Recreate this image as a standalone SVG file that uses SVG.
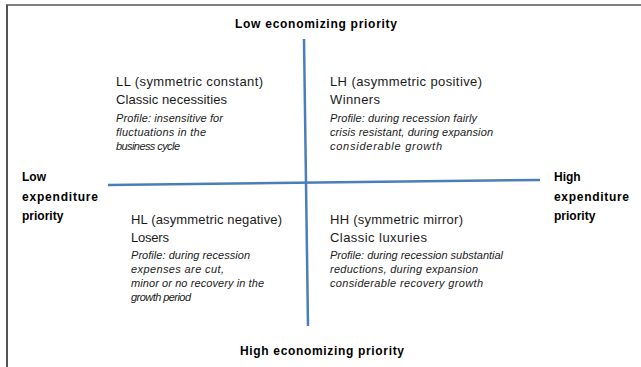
<svg xmlns="http://www.w3.org/2000/svg" width="641" height="367" viewBox="0 0 641 367">
<style>
  .t { font-family: "Liberation Sans", Arial, sans-serif; font-size: 13px; fill: #1a1a1a; }
  .i { font-family: "Liberation Sans", Arial, sans-serif; font-size: 11px; font-style: italic; fill: #1a1a1a; }
  .b { font-family: "Liberation Sans", Arial, sans-serif; font-size: 12px; font-weight: bold; fill: #000; }
  .axis { stroke: #4a7ebb; stroke-width: 2.5; fill: none; }
</style>
<rect x="0" y="0" width="641" height="367" fill="#ffffff"/>
<g id="frame">
  <line x1="6" y1="5" x2="641" y2="5" stroke="#000" stroke-width="1.2"/>
  <line x1="7" y1="5" x2="7" y2="367" stroke="#555" stroke-width="2"/>
</g>
<g id="connectors">
  <line class="axis" x1="304" y1="39" x2="308" y2="326"/>
  <line class="axis" x1="108" y1="185" x2="540" y2="180"/>
</g>
<g id="label-top">
  <text class="b" x="235" y="28" textLength="162">Low economizing priority</text>
</g>
<g id="label-bottom">
  <text class="b" x="240" y="355" textLength="164">High economizing priority</text>
</g>
<g id="label-left">
  <text class="b" x="22" y="181">Low</text>
  <text class="b" x="22" y="201" textLength="76">expenditure</text>
  <text class="b" x="22" y="220">priority</text>
</g>
<g id="label-right">
  <text class="b" x="554" y="181">High</text>
  <text class="b" x="554" y="201" textLength="75">expenditure</text>
  <text class="b" x="554" y="220">priority</text>
</g>
<g id="node-LL">
  <text class="t" x="116" y="86" textLength="147">LL (symmetric constant)</text>
  <text class="t" x="116" y="104" textLength="111">Classic necessities</text>
  <text class="i" x="116" y="122" textLength="107">Profile: insensitive for</text>
  <text class="i" x="116" y="136" textLength="90">fluctuations in the</text>
  <text class="i" x="116" y="150" textLength="64">business cycle</text>
</g>
<g id="node-LH">
  <text class="t" x="330" y="86" textLength="152">LH (asymmetric positive)</text>
  <text class="t" x="330" y="104" textLength="50">Winners</text>
  <text class="i" x="330" y="122" textLength="147">Profile: during recession fairly</text>
  <text class="i" x="330" y="136" textLength="163">crisis resistant, during expansion</text>
  <text class="i" x="330" y="150" textLength="112">considerable growth</text>
</g>
<g id="node-HL">
  <text class="t" x="131" y="224" textLength="151">HL (asymmetric negative)</text>
  <text class="t" x="131" y="242" textLength="38">Losers</text>
  <text class="i" x="131" y="259" textLength="119">Profile: during recession</text>
  <text class="i" x="131" y="273" textLength="93">expenses are cut,</text>
  <text class="i" x="131" y="287" textLength="133">minor or no recovery in the</text>
  <text class="i" x="131" y="301" textLength="60">growth period</text>
</g>
<g id="node-HH">
  <text class="t" x="330" y="224" textLength="133">HH (symmetric mirror)</text>
  <text class="t" x="330" y="242" textLength="97">Classic luxuries</text>
  <text class="i" x="330" y="259" textLength="173">Profile: during recession substantial</text>
  <text class="i" x="330" y="273" textLength="148">reductions, during expansion</text>
  <text class="i" x="330" y="287" textLength="153">considerable recovery growth</text>
</g>
</svg>
